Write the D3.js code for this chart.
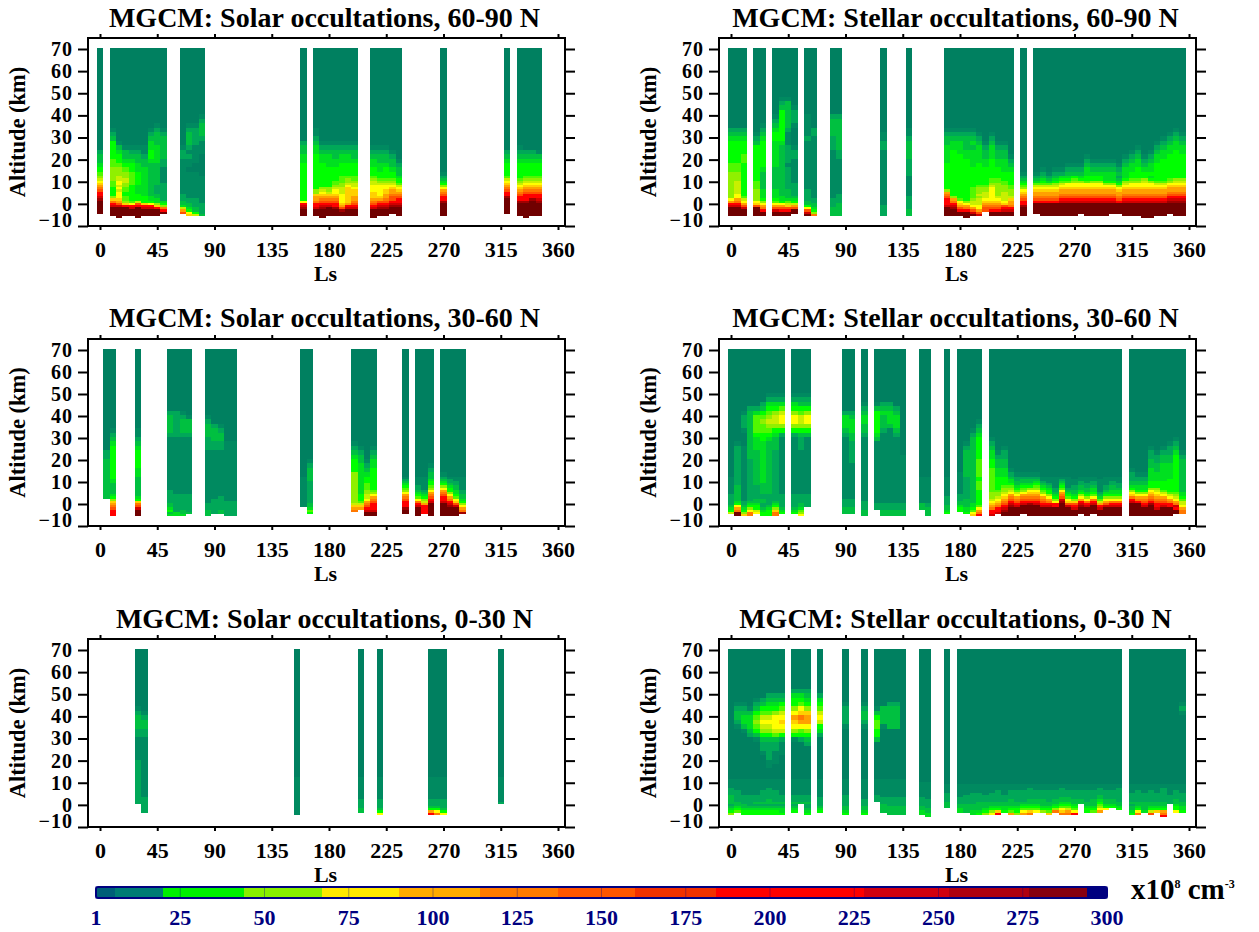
<!DOCTYPE html>
<html>
<head>
<meta charset="utf-8">
<title>MGCM occultations</title>
<style>
  html, body { margin: 0; background: #fff; }
  text { font-family: "Liberation Serif", serif; font-weight: bold; }
  .tick line, .frame { stroke: #000; stroke-width: 2; }
  .frame { fill: none; }
  .cell { shape-rendering: crispEdges; }
</style>
<script src="https://d3js.org/d3.v7.min.js"></script>
</head>
<body>
<div id="chart"></div>
<script>
// density levels (x10^8 cm-3), one letter per level in the column strings below
const levelKeys = "0123456789abcdefgh";
const levelDensity = [1, 5, 9, 13, 17, 22, 35, 48, 62, 75, 88, 105, 125, 150, 190, 230, 262, 295];
const levelColors = ["#008060", "#008a60", "#00a858", "#00c040", "#00e020", "#00ff00", "#50f800", "#90f000", "#c8f000",
  "#ffff00", "#ffd000", "#ffa000", "#ff7800", "#ff5000", "#ff0000", "#d00000", "#a00000", "#700000"];

// altitude cell edges, 1 km near the ground and 2 km higher up, top cell runs to 70 km
const rowEdges = d3.range(-6.5, 13, 1).concat(d3.range(14.5, 53, 2), [70.5]);

// every column: "below 0 km (7 cells)" "0-12 km (12 cells)" "12 km and up (2 km cells)"; "." = no data
const lsSolar6090 = [0, 10, 15, 20, 25, 30, 35, 40, 45, 50, 65, 70, 75, 80, 160, 170, 175, 180, 185, 190, 195, 200, 215, 220, 225, 230, 235, 270, 320, 330, 335, 340, 345];
const rowsSolar6090 = [
  "..hhhhh hgfeedcba987 654332",
  ".hhhhfe ca7555566677 77665555321",
  "hhhhhfd ba9998989988 77655431",
  ".hhhhea 766556677887 7654331",
  ".hhhfe9 655555556666 6554321",
  "hhhhhed 855544445555 5443321",
  ".hhhfea 555444444444 4433211",
  ".hhhfe9 544333333333 33345544321",
  ".hhhea7 443322223333 333444433321",
  "..hec75 422222222111 11223333321",
  "..db843 322211111111 111122100000",
  ".a95433 221111111111 101121233321",
  ".853322 221111111111 100111122221",
  ".322222 111111111111 00000111233321",
  ".hhhgfe 955555555555 55544332",
  ".hhhfee cbba77555555 55555443211",
  "hhhhgfe dcba98755555 55544321",
  ".hhhhfe dcba87755555 55444321",
  ".hhhgee dcba99876655 55443321",
  ".hhgdba 999988877666 55544321",
  ".hhhfeb aaaaaaa98776 55544321",
  ".hhhfed cbbaaa988766 55543321",
  "hhhhfed cbaaa9998876 5544321",
  ".hhhgfe dba999998765 5443321",
  ".hhhgfe dcbbaa998765 5543321",
  "..hhhgf eddcbba98765 543321",
  ".hhhhgf eedcba986554 3321",
  ".hhhhhh geedcb975432 1",
  "..hhhhh hhgeedcba986 555432",
  ".hhhhhh geedcba98765 5554321",
  "hhhhhhh geeedcba9876 555432",
  ".hhhhhh hgeedcba9876 555432",
  ".hhhhhh gfeedcba9876 555431"
];

const lsStellar6090 = [0, 5, 10, 20, 25, 35, 40, 45, 50, 60, 65, 80, 85, 120, 140, 170, 175, 180, 185, 190, 195, 200, 205, 210, 215, 220, 230,
  240, 245, 250, 255, 260, 265, 270, 275, 280, 285, 290, 295, 300, 305, 310, 315, 320, 325, 330, 335, 340, 345, 350, 355];
const rowsStellar6090 = [
  ".hhhhfe b97777777777 76655555432",
  ".hhhhfe cb9988888877 76655555432",
  ".hhhfdb 986555555555 55566555432",
  ".hhhhda 977777666655 5555555321",
  ".hhecb9 754444333333 345555554321",
  ".hhfdb9 654444333333 33444444554321",
  ".hhedb9 544333333333 333333345555555321",
  ".hheda8 643333222222 221222211123333331",
  "..hhdb8 543222222111 1111221000012221",
  ".hfd953 322222111111 11111111211111",
  ".c75433 221111111111 11111111122",
  ".333322 221111111111 11111122233332",
  ".333333 222211111111 11112233333332",
  ".222221 111111111111 1111112211",
  ".333222 222111111111 22223333211",
  ".hhhhfe eedcb7555555 55544443321",
  ".hhhgfe cb7555555555 55555544321",
  ".hhedba 965555555555 55555444321",
  "hhhecb9 755555555555 55554433321",
  ".hfdb98 876666655555 55444434321",
  ".fdb998 887877765555 5554444321",
  "...ddcb a98887765555 55443321",
  ".hhedcb a99999987665 5555444321",
  ".hhedcb a98777777665 55443321",
  ".hhfeda 988887776655 54443321",
  ".hhfecb ba8777665555 54321",
  ".hhhhge edcba9765432 1",
  "..hhhhh edcbba986432 1",
  ".hhhhhh edcbba986543 21",
  ".hhhhhh edcbba986432 1",
  ".hhhhhh edcbba987543 21",
  ".hhhhhh fedcbba98654 21",
  ".hhhhhh fedcbba99654 321",
  ".hhhhhh fedcbba99765 321",
  "..hhhhh fedcbba99754 321",
  ".hhhhhh fedcbba99655 44321",
  ".hhhhhh fedcbba99755 4321",
  ".hhhhhh fedcbba99755 4321",
  ".hhhhhh fedcbba97544 4321",
  "..hhhhh fedcbba97544 4321",
  "..hhhhh edcbba975432 321",
  ".hhhhhh fedcbba98754 44321",
  ".hhhhhh fedcbba99765 544321",
  ".hhhhhh fedcbba99765 5544321",
  "hhhhhhh fedcbba99875 54321",
  "hhhhhhh fedcbba99754 544321",
  ".hhhhhh fedcbba98655 55544321",
  ".hhhhhh fedcbba98655 555544321",
  "..hhhhh gfedcbba9765 5555544321",
  ".hhhhhh gfedcbba9875 55555544321",
  ".hhhhhh gfedcbba9875 5555544321"
];

const lsSolar3060 = [5, 10, 30, 55, 60, 65, 70, 85, 90, 95, 100, 105, 160, 165, 200, 205, 210, 215, 240, 250, 255, 260, 270, 275, 280, 285];
const rowsSolar3060 = [
  "....... ..3333333333 333322",
  ".eeedcb a75433333445 55555554321",
  ".hhhfdc a54333333333 44555543211",
  ".435433 222222111111 111111111233332",
  ".442222 222211111111 111111111222222",
  ".433222 222211111111 111111111233321",
  "..32222 222211111111 11111111123331",
  ".333222 111111111111 11111122233321",
  "..22222 221111111111 111111223332",
  "..33222 222111111111 111111223321",
  ".222222 211111111111 11111111",
  ".222222 211111111111 11111111",
  ".....11 111111111111",
  "..56433 222222222233 3321",
  "...cba8 777777777777 75554321",
  "....ba8 655544444444 4443321",
  ".hhfedc b98877666555 4321",
  ".hhfeee dcb976555555 5544321",
  "..hhgee edcb97654321",
  ".hhhhfe c96543221111",
  "..eeeeb 875432111111",
  ".hhhhhh fedcb9765543 321",
  ".hhhhhh feedcb975432 1",
  ".hhhhgf ecb975543221",
  ".hhhhfd a96544332211",
  "..gcb97 543322111111"
];

const lsStellar3060 = [0, 5, 10, 15, 20, 25, 30, 35, 40, 50, 55, 60, 90, 95, 105, 115, 120, 125, 130, 135, 150, 155, 170, 180, 185, 190, 195,
  205, 210, 215, 220, 225, 230, 235, 240, 245, 250, 255, 260, 265, 270, 275, 280, 285, 290, 295, 300, 305, 315, 320, 325, 330, 335, 340, 345, 350, 355];
const rowsStellar3060 = [
  "..85432 222211111111",
  ".hhcb95 433333332222 22222221",
  ".a75432 211111111111 111111100012221",
  ".cc9754 322222222222 2222333333333332",
  "..98554 332222223333 3333334445666642",
  ".554322 332233333444 44444444556676532",
  ".555432 222233333333 3333333345678765421",
  ".cca754 322222222222 2222223334578875421",
  "..54322 222211111111 1111111112579986421",
  "..54322 222211111111 1111111112579975421",
  ".976433 222211111111 1111112223578865321",
  ".....22 222211111111 1111111113579975321",
  "..33322 221111111111 111111111234442",
  "..33322 221111111111 111222223344432",
  ".333222 211111111111 11111111123344321",
  "....222 111111111111 11111111345555531",
  ".333222 111111111111 11111111112333432",
  ".333222 111111111111 11111111111344432",
  ".333222 111111111111 1111111112344432",
  ".333222 111111111111 11111",
  "....333 111111111111",
  ".333322 111111111111",
  "..54332 222111111111",
  "...5543 322211111111 1",
  "..54433 332222222222 33333321",
  ".a96544 333333333333 33333333321",
  ".ecb965 555555666655 6666555554321",
  ".feecba 987776666666 665544321",
  "..feecb a98776555555 443321",
  ".hhgfed cba987765555 4433221",
  ".hhhhgf edcb98765443 21",
  ".hhhhfe dcb986543322 1",
  "..hhhhf edcb97654332 1",
  ".hhhhhg edcba9754332 1",
  ".hhhhhf edcba9765432 1",
  ".hhhhfe dcb976543211",
  ".hhhhfe cb9755432111",
  ".hhhhee 975432211111",
  ".hhhhhh gfdcb9654321",
  ".hhhhfd a96543211111",
  ".hhhfed a75433221110",
  "..hhhgf eb9754332211",
  ".hhhhfe c97543322111",
  "..hhhhf ec9654432211",
  ".hhhfeb 864321111110",
  ".hhhhfd b97543221111",
  ".hhhhfe c97544332211",
  ".hhhhfe c97544322111",
  ".hhhhhh feca97543322 21",
  ".hhhhhh ecb975443322 1",
  ".hhhhfe dcb975443322 1",
  ".hhhhhg edcba9755544 4433221",
  ".hhhfee dcba98755544 433221",
  ".hhhhfe dcb986555544 4443321",
  ".hhhhee cb9865555554 44433221",
  "..hhefc b98765555555 555554321",
  "..ccb98 865443333333 333321"
];

const lsSolar030 = [30, 35, 155, 205, 220, 260, 265, 270, 315];
const rowsSolar030 = [
  "....... 222222222222 2222111112233321",
  "...2222 222111111111 111111111223321",
  "..11111 111111111111",
  "...3322 221111111111",
  "..95322 221111111111",
  "..eb532 221111111111",
  "..c9532 221111111111",
  "..95322 221111111111",
  "....... 211111111111"
];

const lsStellar030 = [0, 5, 10, 15, 20, 25, 30, 35, 40, 50, 55, 60, 70, 90, 105, 115, 120, 125, 130, 135, 150, 155, 170,
  180, 185, 190, 195, 200, 205, 210, 215, 220, 225, 230, 235, 240, 245, 250, 255, 260, 265, 270, 275, 280, 285, 290, 295, 300, 305,
  315, 320, 325, 330, 335, 340, 345, 350, 355];
const rowsStellar030 = [
  "..75432 333322211110",
  "...6543 322222111110 00000000000123321",
  "..55433 222211111110 00000000001344321",
  "..55432 222211111110 0000000002344431",
  "..55432 322211111110 000000001356765321",
  "..55432 322222111110 000001223578986532",
  "..55432 332222211110 0011222235789865432",
  "..55432 322222111110 0001112236899975432",
  "..54432 322211111110 000001112589a986532",
  "...5432 322211111110 000000001579ab975542",
  "....... 322211111110 000000002569bca96542",
  "..54322 322211111110 000000023579bba75432",
  "...5432 222111111110 0000000002458986542",
  "..54332 222211111110 00000000000122221",
  "..54332 221111111110 00000000000123321",
  "....... .22211111110 0000000035566531",
  "...3333 222111111110 0000000000013333",
  "..33332 222111111110 00000000000333332",
  "..33332 222111111110 00000000000333332",
  "..33332 222111111110",
  "..44332 222111111100",
  ".443322 221111111100",
  ".....33 322221111000",
  "...4433 222111111000",
  "...3333 222211111000",
  "..44333 222221111000",
  "..54333 322221111000",
  "..75433 322211111000",
  "..97543 322221111000",
  "..ea543 322222111000",
  "...5443 322211111000",
  "..b6543 332222111000",
  "..75543 322222111000",
  "..b9654 322222111000",
  "..ca654 332222211000",
  "...9654 332222111000",
  "...7543 332222111000",
  "..a6543 322222111000",
  "...c754 332222111000",
  "..ca965 433222211000",
  "..cb865 433222111000",
  "..e9654 332222111000",
  "....... 332222111000",
  "...5543 322222111000",
  "...6543 332222111000",
  "...b976 543322211000",
  "....954 332222111000",
  ".....54 332222111000",
  "....543 322222211000",
  "..54332 322221111000",
  "..c9543 322222111000",
  "...4333 322221111000",
  "..d8543 322222111000",
  "...a543 322221111000",
  ".ecb543 322222211000",
  "....... 222211111000",
  "...9554 332222111000",
  "...5443 322221111000 00000000000000121"
];

const panelTitles = ["MGCM: Solar occultations, 60-90 N", "MGCM: Stellar occultations, 60-90 N",
  "MGCM: Solar occultations, 30-60 N", "MGCM: Stellar occultations, 30-60 N",
  "MGCM: Solar occultations, 0-30 N", "MGCM: Stellar occultations, 0-30 N"];

const lsTicks = [0, 45, 90, 135, 180, 225, 270, 315, 360];
const altTicks = [-10, 0, 10, 20, 30, 40, 50, 60, 70];

// colour bar blocks, upper edges in the same density units
const barEdges = [0, 20, 44, 67, 90, 114, 137, 160, 184, 228, 253, 277, 300];
const barColors = ["#007c74", "#00f000", "#88ee00", "#ffe800", "#ffaa00", "#ff7a00", "#ff5500", "#f23000", "#ff0000", "#d20010", "#b00010", "#860010"];
const barTicks = [0, 25, 50, 75, 100, 125, 150, 175, 200, 225, 250, 275, 300];
const barLabels = ["1", "25", "50", "75", "100", "125", "150", "175", "200", "225", "250", "275", "300"];

const width = 1259;
const height = 932;
const colLeft = [88, 719];
const rowFrames = [
  { top: 38, y70: 49, bottom: 226, titleY: 27 },
  { top: 339, y70: 350, bottom: 526, titleY: 327 },
  { top: 639, y70: 650, bottom: 827, titleY: 628 }
];

const panelData = [
  [lsSolar6090, rowsSolar6090], [lsStellar6090, rowsStellar6090],
  [lsSolar3060, rowsSolar3060], [lsStellar3060, rowsStellar3060],
  [lsSolar030, rowsSolar030], [lsStellar030, rowsStellar030]
];

const svg = d3.select("#chart").append("svg")
  .attr("width", width)
  .attr("height", height)
  .style("display", "block");

const color = d3.scaleLinear().domain(levelDensity).range(levelColors);

// turn a column string into one {lo, hi, value} per filled cell
function decodeColumn(s) {
  const parts = s.split(" ");
  const chars = parts[0].padEnd(7, "0") + parts[1].padEnd(12, "0") + (parts[2] || "");
  const cells = [];
  for (let i = 0; i < rowEdges.length - 1; i++) {
    const c = i < chars.length ? chars[i] : "0";
    if (c === ".") continue;
    cells.push({ lo: rowEdges[i], hi: rowEdges[i + 1], value: levelDensity[levelKeys.indexOf(c)] });
  }
  return cells;
}

panelData.forEach(function (p, k) {
  const left = colLeft[k % 2];
  const f = rowFrames[Math.floor(k / 2)];
  const frameW = 477;

  const x = d3.scaleLinear().domain([0, 360]).range([left + 12, left + 470]);
  const y = d3.scaleLinear().domain([-10, 70]).range([f.bottom, f.y70]);
  const g = svg.append("g");

  const columns = p[0].map((ls, i) => ({ ls: ls, cells: decodeColumn(p[1][i]) }));

  g.selectAll("g.col")
    .data(columns)
    .enter()
    .append("g")
    .attr("class", "col")
    .selectAll("rect")
    .data(d => d.cells.map(c => ({ ...c, ls: d.ls })))
    .enter()
    .append("rect")
    .attr("class", "cell")
    .attr("x", d => x(d.ls - 2.5))
    .attr("width", d => x(d.ls + 2.5) - x(d.ls - 2.5))
    .attr("y", d => y(d.hi))
    .attr("height", d => y(d.lo) - y(d.hi))
    .attr("fill", d => color(d.value));

  g.append("rect")
    .attr("class", "frame")
    .attr("x", left)
    .attr("y", f.top)
    .attr("width", frameW)
    .attr("height", f.bottom - f.top);

  const axisB = g.append("g")
    .attr("transform", `translate(0,${f.bottom})`)
    .call(d3.axisBottom(x).tickValues(lsTicks).tickSize(4).tickPadding(11));
  axisB.selectAll("text").style("font-size", "22px").style("font-family", null).attr("fill", "#000");

  g.append("g")
    .attr("transform", `translate(0,${f.top})`)
    .call(d3.axisTop(x).tickValues(lsTicks).tickSize(4).tickFormat(""));

  // 20px with a little tracking so the 10 km labels do not collide
  const axisL = g.append("g")
    .attr("transform", `translate(${left},0)`)
    .call(d3.axisLeft(y).tickValues(altTicks).tickSize(10).tickPadding(5));
  axisL.selectAll("text")
    .style("font-size", "20px")
    .style("letter-spacing", "1px")
    .style("font-family", null)
    .attr("fill", "#000");
  // the -10 label sits above its tick
  axisL.selectAll(".tick text").filter(d => d === -10).attr("dy", "0.02em");

  g.append("g")
    .attr("transform", `translate(${left + frameW},0)`)
    .call(d3.axisRight(y).tickValues(altTicks).tickSize(10).tickFormat(""));

  g.selectAll(".domain").remove();

  g.append("text")
    .attr("x", left + frameW / 2 - 2)
    .attr("y", f.titleY)
    .attr("text-anchor", "middle")
    .style("font-size", "28px")
    .text(panelTitles[k]);

  g.append("text")
    .attr("x", left + frameW / 2 - 1)
    .attr("y", f.bottom + 55)
    .attr("text-anchor", "middle")
    .style("font-size", "22px")
    .text("Ls");

  g.append("text")
    .attr("transform", `translate(${left - 63},${(f.top + f.bottom) / 2}) rotate(-90)`)
    .attr("text-anchor", "middle")
    .style("font-size", "22.5px")
    .text("Altitude (km)");
});

// colour bar
const barX = d3.scaleLinear().domain([0, 300]).range([96, 1107]);
const barTop = 887;
const barH = 11;
const navy = "#000080";

svg.append("g")
  .selectAll("rect")
  .data(barColors)
  .enter()
  .append("rect")
  .attr("class", "cell")
  .attr("x", (d, i) => barX(barEdges[i]))
  .attr("width", (d, i) => barX(barEdges[i + 1]) - barX(barEdges[i]))
  .attr("y", barTop)
  .attr("height", barH)
  .attr("fill", d => d);

// navy end caps
svg.append("rect").attr("x", barX(0)).attr("y", barTop).attr("width", 19).attr("height", barH).attr("fill", "#005f78");
svg.append("rect").attr("x", barX(300) - 20).attr("y", barTop).attr("width", 20).attr("height", barH).attr("fill", navy);
svg.append("rect")
  .attr("x", barX(0))
  .attr("y", barTop)
  .attr("width", barX(300) - barX(0))
  .attr("height", barH)
  .attr("fill", "none")
  .attr("stroke", navy)
  .attr("stroke-width", 2)
  .attr("rx", 2);

svg.append("g")
  .selectAll("line")
  .data(barTicks)
  .enter()
  .append("line")
  .attr("x1", d => barX(d))
  .attr("x2", d => barX(d))
  .attr("y1", barTop - 1)
  .attr("y2", barTop + barH + 1)
  .attr("stroke", navy)
  .attr("stroke-opacity", 0.35)
  .attr("stroke-width", 1);

svg.append("g")
  .selectAll("text")
  .data(barTicks)
  .enter()
  .append("text")
  .attr("x", d => barX(d))
  .attr("y", 925)
  .attr("text-anchor", "middle")
  .attr("fill", navy)
  .style("font-size", "22px")
  .text((d, i) => barLabels[i]);

const unit = svg.append("text")
  .attr("x", 1131)
  .attr("y", 899)
  .style("font-size", "29px");
unit.append("tspan").text("x10");
unit.append("tspan").attr("dy", -11).style("font-size", "12px").text("8");
unit.append("tspan").attr("dy", 11).text(" cm");
unit.append("tspan").attr("dy", -11).style("font-size", "12px").text("-3");
</script>
</body>
</html>
